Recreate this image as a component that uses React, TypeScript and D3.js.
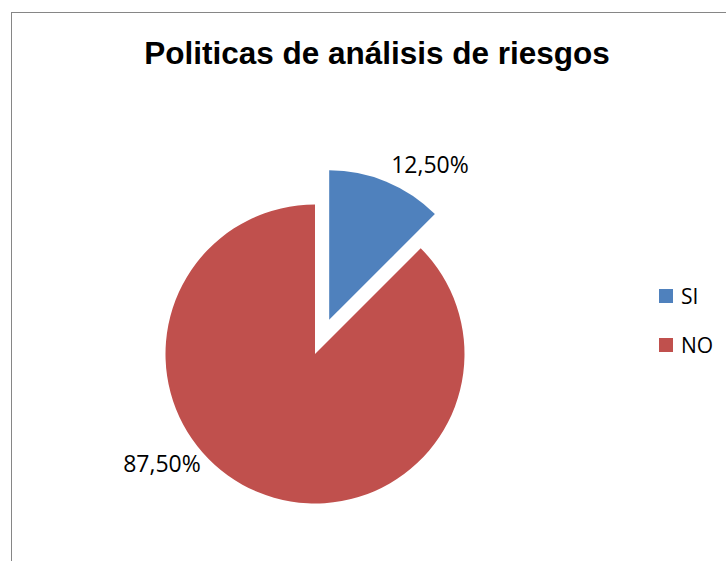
import React from "react";
import * as d3 from "d3";

const categories = ["SI", "NO"];
const values = [12.5, 87.5];
const labels = ["12,50%", "87,50%"];
const colors = ["#4F81BD", "#C0504D"];
const title = "Politicas de análisis de riesgos";

export default function App() {
  const W = 726, H = 561;
  const cx = 315, cy = 354, r = 149.5, explode = 37;
  const pie = d3.pie<number>().sort(null).value((d) => d)(values);
  const arc = d3.arc<d3.PieArcDatum<number>>().innerRadius(0).outerRadius(r);
  const labelPos = [
    { x: 430, y: 173 },
    { x: 162, y: 472 },
  ];
  return (
    <svg width={W} height={H} style={{ position: "absolute", left: 0, top: 0 }}>
      <rect x={0} y={0} width={W} height={H} fill="#fff" />
      <rect x={11.5} y={12.5} width={W + 20} height={H + 20} fill="none" stroke="#868686" strokeWidth={1} />
      <text x={377} y={64} textAnchor="middle" fontFamily="Liberation Sans, Arial, sans-serif" fontWeight="bold" fontSize={31.5} fill="#000">{title}</text>
      <g transform={`translate(${cx},${cy})`}>
        {pie.map((p, i) => {
          const mid = (p.startAngle + p.endAngle) / 2;
          const off = i === 0 ? explode : 0;
          const dx = Math.sin(mid) * off, dy = -Math.cos(mid) * off;
          return <path key={i} d={arc(p) || ""} fill={colors[i]} transform={`translate(${dx},${dy})`} />;
        })}
      </g>
      {labels.map((l, i) => (
        <text key={i} x={labelPos[i].x} y={labelPos[i].y} textAnchor="middle" fontFamily="Open Sans, sans-serif" fontSize={23} fill="#000">{l}</text>
      ))}
      {categories.map((c, i) => (
        <g key={c} transform={`translate(659,${289 + i * 49})`}>
          <rect x={0} y={0} width={14} height={14} fill={colors[i]} />
          <text x={22} y={15} fontFamily="Open Sans, sans-serif" fontSize={21} fill="#000">{c}</text>
        </g>
      ))}
    </svg>
  );
}
